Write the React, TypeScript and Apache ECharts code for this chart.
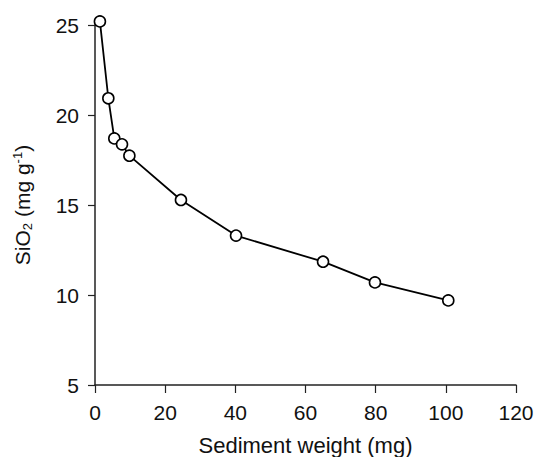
import React, { useEffect, useRef } from "react";
import * as echarts from "echarts";

const sedimentWeight = [1.4, 3.8, 5.5, 7.7, 9.8, 24.5, 40.2, 65, 79.8, 100.7];
const sio2 = [25.2, 20.93, 18.7, 18.37, 17.74, 15.28, 13.3, 11.85, 10.7, 9.7];
const xTicks = { min: 0, max: 120, interval: 20 };
const yTicks = { min: 5, max: 25, interval: 5 };
const xName = "Sediment weight (mg)";

const FONT = "'Liberation Sans', Arial, Helvetica, sans-serif";
const AXIS_COLOR = "#222";

export default function App() {
  const ref = useRef<HTMLDivElement>(null);
  useEffect(() => {
    if (!ref.current) return;
    const chart = echarts.init(ref.current, null, { renderer: "svg" });
    const data = sedimentWeight.map((x, i) => [x, sio2[i]]);
    chart.setOption({
      animation: false,
      backgroundColor: "#fff",
      grid: { left: 95, right: 19, top: 25, bottom: 72, outerBoundsMode: "none" },
      xAxis: {
        type: "value",
        min: xTicks.min,
        max: xTicks.max,
        interval: xTicks.interval,
        name: xName,
        nameLocation: "middle",
        nameGap: 49,
        nameTextStyle: { fontFamily: FONT, fontSize: 22, color: "#111" },
        axisLine: { show: true, lineStyle: { color: AXIS_COLOR, width: 1.5 } },
        axisTick: { show: true, length: 8, lineStyle: { color: AXIS_COLOR, width: 1.2 } },
        axisLabel: { fontFamily: FONT, fontSize: 21, color: "#111", margin: 17 },
        splitLine: { show: false },
      },
      yAxis: {
        type: "value",
        min: yTicks.min,
        max: yTicks.max,
        interval: yTicks.interval,
        name: "SiO{sub|2} (mg g{sup|-1})",
        nameLocation: "middle",
        nameGap: 61,
        nameRotate: 90,
        nameTextStyle: {
          fontFamily: FONT,
          fontSize: 21,
          color: "#111",
          rich: {
            sub: { fontFamily: FONT, fontSize: 13, color: "#111", padding: [10, 0, 0, 0] },
            sup: { fontFamily: FONT, fontSize: 13, color: "#111", padding: [0, 0, 10, 0] },
          },
        },
        axisLine: { show: true, lineStyle: { color: AXIS_COLOR, width: 1.5 } },
        axisTick: { show: true, length: 7, lineStyle: { color: AXIS_COLOR, width: 1.2 } },
        axisLabel: { fontFamily: FONT, fontSize: 21, color: "#111", margin: 16 },
        splitLine: { show: false },
      },
      series: [
        {
          type: "line",
          data,
          clip: false,
          symbol: "circle",
          symbolSize: 11,
          showAllSymbol: true,
          lineStyle: { color: "#000", width: 1.8 },
          itemStyle: { color: "#fff", borderColor: "#000", borderWidth: 1.6 },
        },
      ],
    });
    return () => chart.dispose();
  }, []);
  return (
    <div
      ref={ref}
      style={{ position: "fixed", left: 0, top: 0, width: 535, height: 457 }}
    />
  );
}
